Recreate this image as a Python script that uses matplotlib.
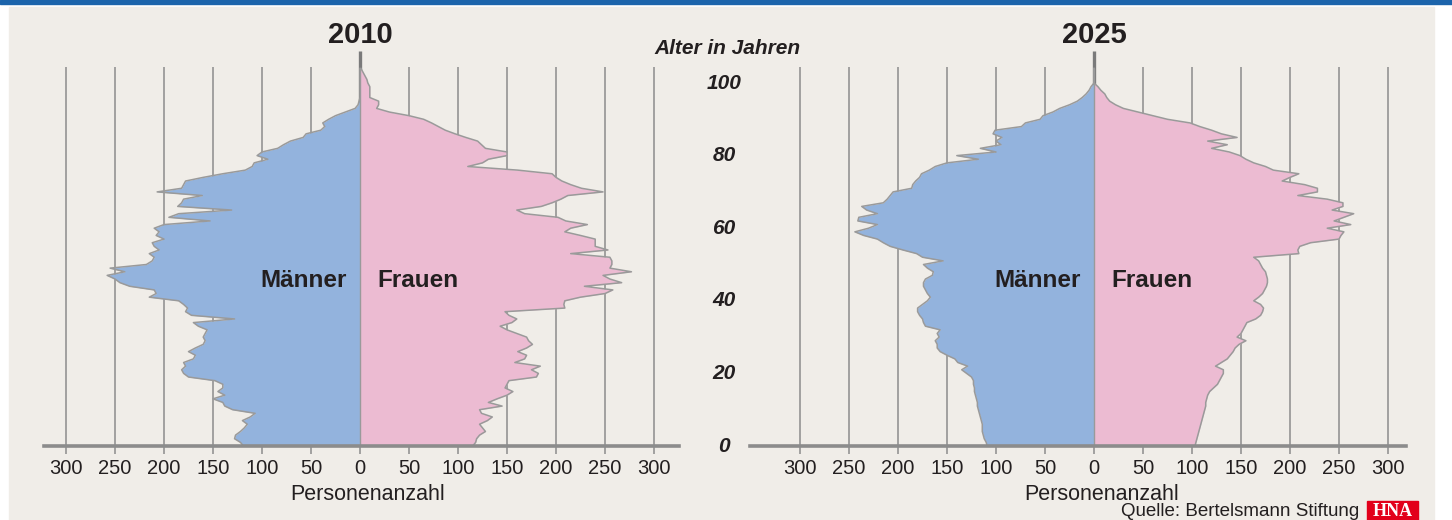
import matplotlib.pyplot as plt
import matplotlib.transforms as mtransforms
from matplotlib.patches import Rectangle
import numpy as np

# Alter 0..104, Personenanzahl je Jahrgang
ages = list(range(105))

maenner_2010 = [119, 122, 128, 127, 122, 118, 115, 120, 112, 107,
                130, 138, 140, 150, 138, 145, 140, 140, 148, 175,
                180, 182, 178, 180, 170, 168, 175, 168, 160, 158,
                160, 158, 156, 165, 170, 128, 172, 178, 176, 180,
                185, 215, 208, 210, 235, 245, 250, 258, 240, 255,
                218, 212, 210, 215, 205, 210, 212, 200, 208, 205,
                210, 200, 153, 195, 185, 131, 186, 182, 180, 161,
                207, 182, 180, 178, 160, 140, 117, 110, 108, 94,
                105, 100, 84, 78, 71, 58, 55, 40, 36, 38,
                32, 25, 15, 5, 2, 1, 0, 0, 0, 0,
                0, 0, 0, 0, 0]

frauen_2010 = [115, 118, 119, 122, 128, 125, 122, 130, 135, 124,
               122, 145, 131, 140, 150, 156, 148, 150, 152, 180,
               182, 175, 184, 158, 168, 170, 161, 170, 176, 172,
               170, 160, 150, 143, 155, 160, 152, 148, 209, 208,
               209, 225, 250, 258, 229, 267, 255, 248, 277, 255,
               257, 257, 255, 215, 253, 240, 240, 240, 225, 209,
               215, 232, 210, 202, 168, 160, 185, 196, 205, 212,
               248, 226, 215, 206, 200, 196, 161, 110, 125, 131,
               150, 150, 128, 124, 120, 108, 97, 87, 80, 73,
               65, 50, 30, 17, 19, 19, 10, 10, 10, 10,
               8, 7, 5, 3, 1]

maenner_2025 = [109, 110, 112, 113, 114, 114, 114, 115, 116, 117,
                118, 119, 119, 120, 121, 122, 122, 123, 123, 125,
                130, 135, 129, 139, 142, 150, 157, 160, 160, 162,
                158, 160, 157, 172, 174, 175, 178, 180, 180, 175,
                170, 167, 170, 172, 174, 174, 172, 165, 164, 170,
                174, 154, 175, 181, 195, 208, 215, 221, 235, 244,
                230, 221, 241, 240, 221, 232, 237, 215, 211, 208,
                205, 186, 185, 182, 178, 176, 168, 162, 150, 118,
                140, 100, 116, 95, 100, 94, 103, 101, 74, 70,
                55, 52, 42, 35, 25, 17, 12, 8, 5, 3,
                0, 0, 0, 0, 0]

frauen_2025 = [103, 104, 105, 106, 107, 108, 109, 110, 111, 112,
               113, 114, 114, 115, 116, 118, 122, 126, 128, 130,
               132, 132, 124, 130, 136, 139, 142, 144, 148, 155,
               146, 150, 152, 154, 156, 165, 170, 172, 173, 170,
               163, 168, 172, 174, 176, 177, 177, 176, 175, 172,
               170, 168, 163, 209, 208, 210, 221, 250, 252, 255,
               238, 262, 245, 255, 265, 243, 254, 254, 238, 208,
               228, 228, 215, 192, 200, 209, 183, 175, 163, 155,
               149, 138, 120, 136, 116, 146, 130, 120, 108, 98,
               75, 60, 45, 30, 22, 16, 13, 11, 7, 4,
               0, 0, 0, 0, 0]

ticks = [-300, -250, -200, -150, -100, -50, 0, 50, 100, 150, 200, 250, 300]
alter_ticks = [0, 20, 40, 60, 80, 100]

bg = '#f0ede8'
blau = '#93b3dd'
rosa = '#ecbbd2'
rand = '#9a9a9a'
grau = '#8c8c8c'
text_farbe = '#231f20'
schrift = 'Liberation Sans'

fig = plt.figure(figsize=(14.52, 5.2), dpi=100, facecolor='white')
fig.patches.append(Rectangle((9 / 1452, 0), 1425 / 1452, 513 / 520,
                             transform=fig.transFigure, color=bg, zorder=-10))
fig.patches.append(Rectangle((0, 516.5 / 520), 1, 3.5 / 520,
                             transform=fig.transFigure, color='#1c64ab', zorder=-9))

# Achsen: 0.98 px pro Person, 3.63 px pro Jahr
axL = fig.add_axes([44 / 1452, 74 / 520, 635 / 1452, 406 / 520])
axR = fig.add_axes([750 / 1452, 74 / 520, 656 / 1452, 406 / 520])
axL.set_xlim(-316 / 0.98, 319 / 0.98)
axR.set_xlim(-344 / 0.98, 312 / 0.98)

panels = [(axL, maenner_2010, frauen_2010, '2010'),
          (axR, maenner_2025, frauen_2025, '2025')]

for ax, m, f, jahr in panels:
    m = np.array(m, dtype=float)
    f = np.array(f, dtype=float)
    ax.set_facecolor('none')
    ax.set_ylim(0, 406 / 3.63)
    for t in ticks:
        if t != 0:
            ax.vlines(t, 0, 104.4, color=grau, lw=1.1, zorder=1)
    ax.vlines(0, 0, 108.8, color='#7a7a7a', lw=2.4, zorder=1)
    ax.fill_betweenx(ages, -m, 0, color=blau, lw=0, zorder=2)
    ax.fill_betweenx(ages, 0, f, color=rosa, lw=0, zorder=2)
    ax.plot(-m, ages, color=rand, lw=1.1, zorder=3)
    ax.plot(f, ages, color=rand, lw=1.1, zorder=3)
    ax.vlines(0, 0, 104, color=rand, lw=1.0, zorder=3)

    for s in ['top', 'left', 'right']:
        ax.spines[s].set_visible(False)
    ax.spines['bottom'].set_color(grau)
    ax.spines['bottom'].set_linewidth(2.6)
    ax.spines['bottom'].set_zorder(4)
    ax.set_yticks([])
    ax.set_xticks(ticks)
    ax.set_xticklabels([str(abs(t)) for t in ticks], family=schrift,
                       fontsize=14.5, color=text_farbe)
    ax.tick_params(axis='x', length=6, width=1.1, color=grau, pad=3)

    ax.text(0, 109.5, jahr, ha='center', va='bottom', fontsize=21,
            fontweight='bold', color=text_farbe, family=schrift)
    ax.text(-14, 45.7, 'Männer', ha='right', va='center', fontsize=17.5,
            fontweight='bold', color=text_farbe, family=schrift)
    ax.text(18, 45.7, 'Frauen', ha='left', va='center', fontsize=17.5,
            fontweight='bold', color=text_farbe, family=schrift)
    ax.text(8, -48 / 406, 'Personenanzahl', transform=ax.get_xaxis_transform(),
            ha='center', va='center', fontsize=15.5, color=text_farbe,
            family=schrift)

# Altersachse in der Mitte
trans = mtransforms.blended_transform_factory(fig.transFigure, axL.transData)
for a in alter_ticks:
    fig.text(724 / 1452, a, str(a), transform=trans, ha='center', va='center',
             fontsize=15, fontweight='bold', fontstyle='italic',
             color=text_farbe, family=schrift)
fig.text(727 / 1452, 1 - 48 / 520, 'Alter in Jahren', ha='center', va='center',
         fontsize=15, fontweight='bold', fontstyle='italic', color=text_farbe,
         family=schrift)

fig.text(1359 / 1452, 1 - 512 / 520, 'Quelle: Bertelsmann Stiftung', ha='right',
         va='center', fontsize=13.5, color=text_farbe, family=schrift)
fig.patches.append(Rectangle((1367 / 1452, 0), 51 / 1452, 19 / 520,
                             transform=fig.transFigure, color='#e2001a', zorder=5))
fig.text(1392.5 / 1452, 9 / 520, 'HNA', ha='center', va='center', fontsize=13,
         fontweight='bold', color='white', family='Liberation Serif', zorder=6)

fig.savefig('out.png', dpi=100, facecolor=fig.get_facecolor())
